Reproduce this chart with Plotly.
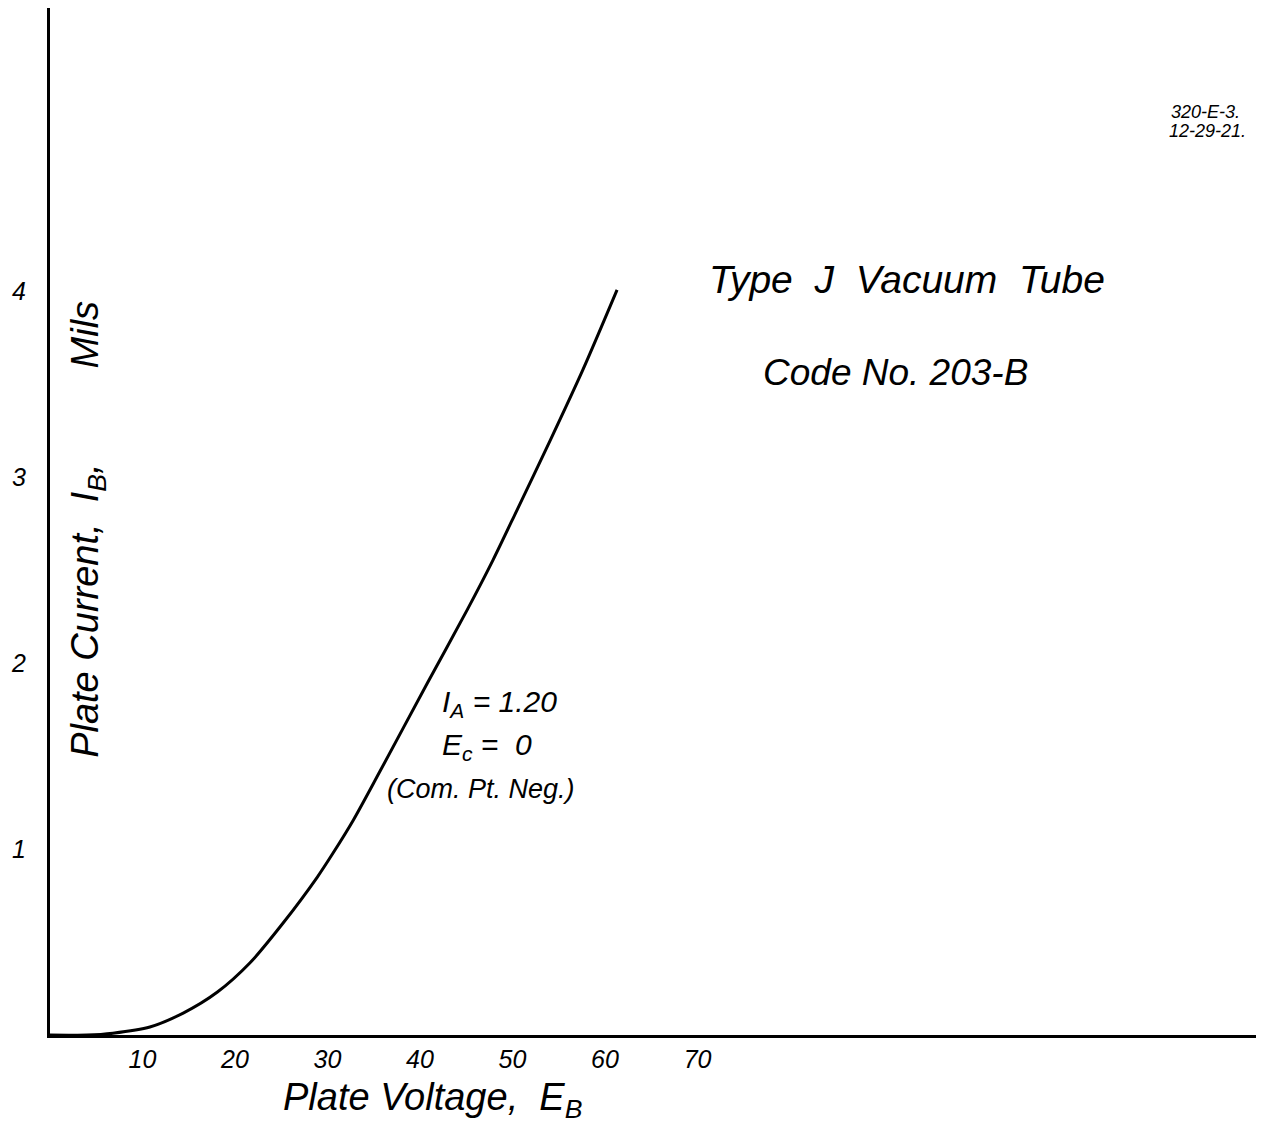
import plotly.graph_objects as go

# Data
plate_voltage = [0, 4, 6.8, 10.8, 14.4, 18.1, 21.6, 25.2, 28.9, 30.6, 32.8, 35.7, 40.8, 45.1, 47.9, 50.5, 54.1, 57.6, 61.3]
plate_current = [0, 0, 0.01, 0.043, 0.118, 0.231, 0.387, 0.602, 0.849, 0.978, 1.156, 1.42, 1.892, 2.285, 2.554, 2.823, 3.199, 3.575, 4.005]
x_ticks = [10, 20, 30, 40, 50, 60, 70]
y_ticks = [1, 2, 3, 4]

FONT = "Liberation Sans"

fig = go.Figure()
fig.add_trace(go.Scatter(
    x=plate_voltage, y=plate_current, mode="lines",
    line=dict(color="black", width=3, shape="spline", smoothing=0.8),
    showlegend=False, hoverinfo="skip"))

ann_font = dict(family=FONT, color="black", style="italic")

fig.update_layout(
    width=1264, height=1130,
    margin=dict(l=42, r=0, t=0, b=103, autoexpand=False),
    paper_bgcolor="white", plot_bgcolor="white",
    showlegend=False,
    xaxis=dict(range=[0, 132.1], tickvals=x_ticks, ticktext=[str(v) for v in x_ticks],
               showgrid=False, zeroline=False, showline=True, linecolor="black", linewidth=3,
               ticks="", ticklabelstandoff=0, automargin=False,
               tickfont=dict(family=FONT, size=25, color="black", style="italic")),
    yaxis=dict(range=[0, 5.52], tickvals=y_ticks, ticktext=[str(v) for v in y_ticks],
               showgrid=False, zeroline=False, showline=True, linecolor="black", linewidth=3,
               ticks="", ticklabelstandoff=16, automargin=False,
               tickfont=dict(family=FONT, size=25, color="black", style="italic")),
)

annotations = [
    dict(x=4.1, y=2.72, text="Plate Current,  I<sub>B</sub>,         Mils", textangle=-90,
         font=dict(size=38, **ann_font)),
    dict(x=41.3, y=0, yref="paper", yanchor="middle", yshift=-65,
         text="Plate Voltage,  E<sub>B</sub>", font=dict(size=38, **ann_font)),
    dict(x=92.6, y=4.06, text="Type  J  Vacuum  Tube", font=dict(size=39, **ann_font)),
    dict(x=91.4, y=3.56, text="Code No. 203-B", font=dict(size=37, **ann_font)),
    dict(x=42.2, y=1.78, xanchor="left", text="I<sub>A</sub> = 1.20", font=dict(size=30, **ann_font)),
    dict(x=42.2, y=1.55, xanchor="left", text="E<sub>c</sub> =  0", font=dict(size=30, **ann_font)),
    dict(x=36.2, y=1.32, xanchor="left", text="(Com. Pt. Neg.)", font=dict(size=27, **ann_font)),
    dict(x=124.9, y=4.96, text="320-E-3.", font=dict(size=18, **ann_font)),
    dict(x=125.1, y=4.86, text="12-29-21.", font=dict(size=18, **ann_font)),
]
for a in annotations:
    a.setdefault("xref", "x")
    a.setdefault("yref", "y")
    a["showarrow"] = False
    fig.add_annotation(**a)

fig.write_html("out.html")
